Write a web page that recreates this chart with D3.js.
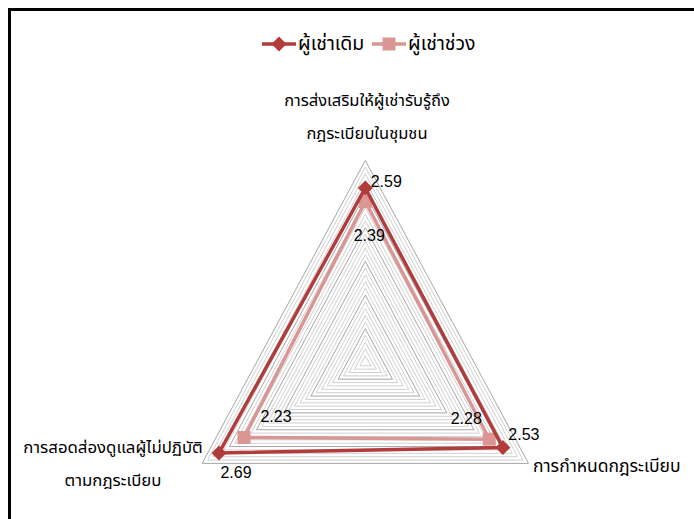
<!DOCTYPE html>
<html><head><meta charset="utf-8">
<script src="https://cdn.jsdelivr.net/npm/d3@7"></script>
<style>
html,body{margin:0;padding:0;background:#fff;}
svg text{font-family:"Noto Sans Thai","Noto Sans","DejaVu Sans",sans-serif;}
</style></head>
<body><svg id="c" width="694" height="519"></svg>
<script>
const categories = [
  ["การส่งเสริมให้ผู้เช่ารับรู้ถึง","กฎระเบียบในชุมชน"],
  ["การกำหนดกฎระเบียบ"],
  ["การสอดส่องดูแลผู้ไม่ปฏิบัติ","ตามกฎระเบียบ"]
];
const seriesNames = ["ผู้เช่าเดิม","ผู้เช่าช่วง"];
const values1 = [2.59, 2.53, 2.69];
const values2 = [2.39, 2.28, 2.23];
const axisMax = 3.0;
const gridStep = 0.1;

const svg = d3.select("#c");
const W = 694, H = 519;
svg.append("rect").attr("x",9.5).attr("y",9.5).attr("width",W+10).attr("height",H+10)
  .attr("fill","none").attr("stroke","#000").attr("stroke-width",3);

const cx = 365.3, cy = 362.4;
const rx = d3.scaleLinear().domain([0, axisMax]).range([0, 188.4]);
const ry = d3.scaleLinear().domain([0, axisMax]).range([0, 202]);
const angle = d3.scaleLinear().domain([0, categories.length]).range([-Math.PI/2, 1.5*Math.PI]);
const pt = (i, v) => [cx + rx(v)*Math.cos(angle(i)), cy + ry(v)*Math.sin(angle(i))];

const levels = d3.range(1, Math.round(axisMax/gridStep)+1).map(k => +(k*gridStep).toFixed(2));
const line = d3.line();
svg.append("g").selectAll("path").data(levels).join("path")
  .attr("d", v => line(categories.map((c,i)=>pt(i,v))) + "Z")
  .attr("fill","none")
  .attr("stroke", v => (Math.abs(v*2 - Math.round(v*2))<1e-6) ? "#a6a6a6" : "#d0d0d0")
  .attr("stroke-width",1);

const col1 = "#b23c3c", col2 = "#d99694";
const diamond = "M0,-7.5L7.5,0L0,7.5L-7.5,0Z";
const square = "M-6.5,-6.5H6.5V6.5H-6.5Z";
function drawSeries(vals, color, shape){
  const pts = vals.map((v,i)=>pt(i,v));
  svg.append("path").attr("d", line(pts)+"Z").attr("fill","none")
    .attr("stroke",color).attr("stroke-width",3.5).attr("stroke-linejoin","miter");
  svg.append("g").selectAll("path").data(pts).join("path")
    .attr("transform", d=>`translate(${d[0]},${d[1]})`)
    .attr("d", shape).attr("fill",color);
  return pts;
}
const p2 = drawSeries(values2, col2, square);
const p1 = drawSeries(values1, col1, diamond);

const lab1Off = [[21,-7],[21,-13],[17,20]];
const lab2Off = [[4,34],[-23,-21],[32,-21]];
function labels(pts, vals, offs){
  svg.append("g").selectAll("text").data(vals).join("text")
    .attr("x",(d,i)=>pts[i][0]+offs[i][0]).attr("y",(d,i)=>pts[i][1]+offs[i][1])
    .attr("text-anchor","middle").attr("dominant-baseline","central")
    .style("font-family","'Liberation Sans',Arial,sans-serif").style("font-size","16px").attr("fill","#000")
    .text(d=>d.toFixed(2));
}
labels(p1, values1, lab1Off);
labels(p2, values2, lab2Off);

const catPos = [
  {x:367, y:100, anchor:"middle"},
  {x:533, y:466, anchor:"start"},
  {x:113, y:448, anchor:"middle"}
];
const catSize = ["16.5px","17.5px","16.8px"];
categories.forEach((lines,i)=>{
  const t = svg.append("text").attr("x",catPos[i].x).attr("y",catPos[i].y)
    .attr("text-anchor",catPos[i].anchor).attr("dominant-baseline","central")
    .style("font-size",catSize[i]).attr("fill","#000");
  lines.forEach((s,j)=>t.append("tspan").attr("x",catPos[i].x).attr("dy", j===0?0:33).text(s));
});

const leg = [{x:262, color:col1, shape:diamond},{x:372, color:col2, shape:square}];
leg.forEach((l,i)=>{
  const g = svg.append("g");
  g.append("line").attr("x1",l.x).attr("x2",l.x+34).attr("y1",44).attr("y2",44)
    .attr("stroke",l.color).attr("stroke-width",3.5);
  g.append("path").attr("transform",`translate(${l.x+17},44)`)
    .attr("d",l.shape).attr("fill",l.color);
  g.append("text").attr("x",l.x+36).attr("y",44).attr("dominant-baseline","central")
    .style("font-size","19.5px").attr("fill","#000").text(seriesNames[i]);
});
</script></body></html>
